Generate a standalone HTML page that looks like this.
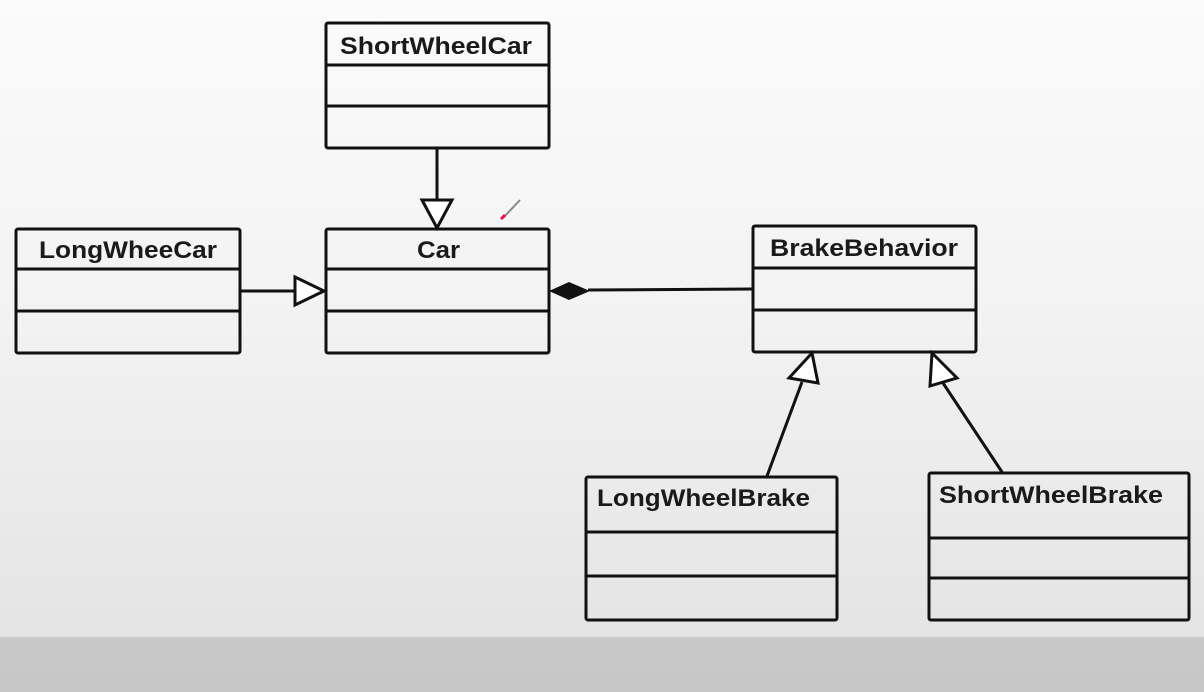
<!DOCTYPE html>
<html><head><style>
html,body{margin:0;padding:0;width:1204px;height:692px;overflow:hidden;}
body{background:linear-gradient(#fbfbfb 0px,#f3f3f3 300px,#e4e4e4 636px,#c9c9c9 638px,#c6c6c6 692px);}
text{font-family:"Liberation Sans",sans-serif;font-weight:bold;font-size:24px;fill:#1a1a1a;}
</style></head><body>
<svg width="1204" height="692" xmlns="http://www.w3.org/2000/svg" style="position:absolute;left:0;top:0">
<g fill="none" stroke="#111" stroke-width="3">
<rect x="326" y="23" width="223" height="125" rx="2"/><line x1="326" y1="65" x2="549" y2="65"/><line x1="326" y1="106" x2="549" y2="106"/>
<rect x="326" y="229" width="223" height="124" rx="2"/><line x1="326" y1="269" x2="549" y2="269"/><line x1="326" y1="311" x2="549" y2="311"/>
<rect x="16" y="229" width="224" height="124" rx="2"/><line x1="16" y1="269" x2="240" y2="269"/><line x1="16" y1="311" x2="240" y2="311"/>
<rect x="753" y="226" width="223" height="126" rx="2"/><line x1="753" y1="268" x2="976" y2="268"/><line x1="753" y1="310" x2="976" y2="310"/>
<rect x="586" y="477" width="251" height="143" rx="2"/><line x1="586" y1="532" x2="837" y2="532"/><line x1="586" y1="576" x2="837" y2="576"/>
<rect x="929" y="473" width="260" height="147" rx="2"/><line x1="929" y1="538" x2="1189" y2="538"/><line x1="929" y1="578" x2="1189" y2="578"/>
<line x1="437" y1="148" x2="437" y2="200"/>
<polygon points="422,200 452,200 437,228" fill="#fff"/>
<line x1="240" y1="291" x2="295" y2="291"/>
<polygon points="295,277 295,305 324,291" fill="#fff"/>
<line x1="588" y1="290" x2="753" y2="289"/>
<line x1="767" y1="476" x2="802" y2="382"/>
<polygon points="812,353 789,378 818,383" fill="#fff"/>
<line x1="1002" y1="472" x2="943" y2="383"/>
<polygon points="932,353 930,386 957,378" fill="#fff"/>
</g>
<polygon points="549,291 569,282 590,291 569,300" fill="#111"/>
<line x1="503" y1="218" x2="520" y2="200" stroke="#888" stroke-width="2"/>
<line x1="501" y1="219" x2="505" y2="215" stroke="#e0105a" stroke-width="3"/>
<text x="340" y="54" textLength="192" lengthAdjust="spacingAndGlyphs">ShortWheelCar</text>
<text x="417" y="258" textLength="43" lengthAdjust="spacingAndGlyphs">Car</text>
<text x="39" y="258" textLength="178" lengthAdjust="spacingAndGlyphs">LongWheeCar</text>
<text x="770" y="256" textLength="188" lengthAdjust="spacingAndGlyphs">BrakeBehavior</text>
<text x="597" y="506" textLength="213" lengthAdjust="spacingAndGlyphs">LongWheelBrake</text>
<text x="939" y="503" textLength="224" lengthAdjust="spacingAndGlyphs">ShortWheelBrake</text>
</svg>
</body></html>
